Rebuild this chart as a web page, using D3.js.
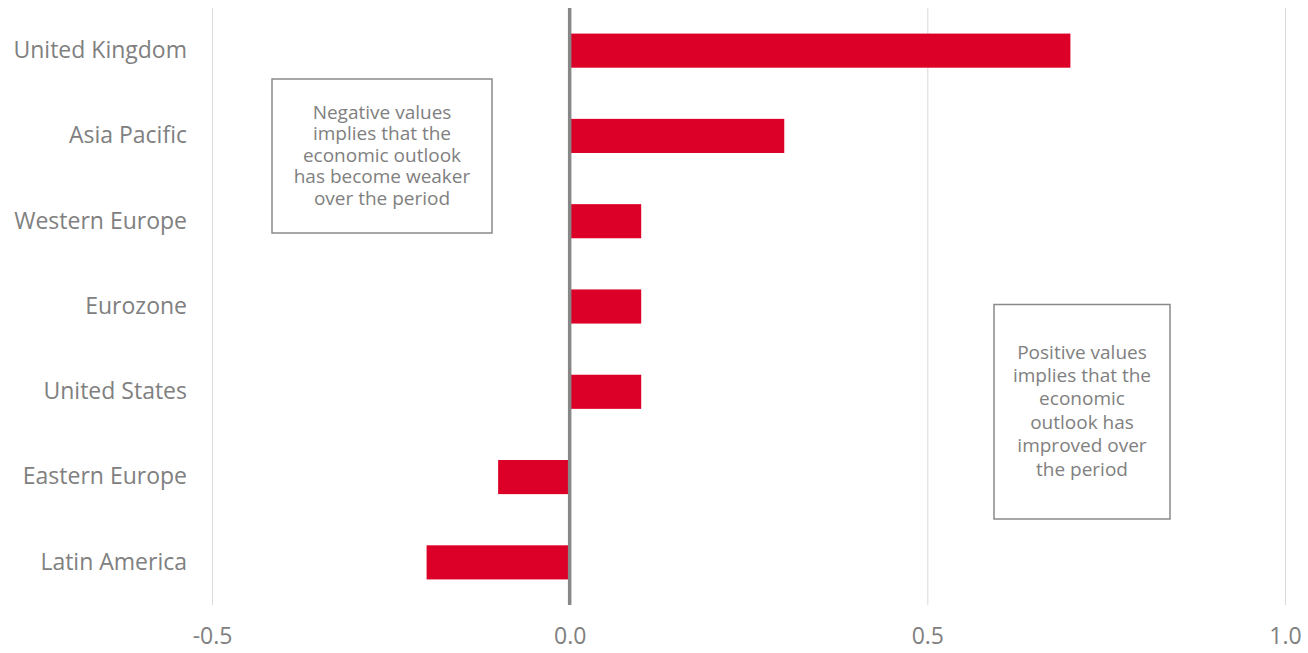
<!DOCTYPE html>
<html>
<head>
<meta charset="utf-8">
<script src="https://cdn.jsdelivr.net/npm/d3@7"></script>
<style>
  body { margin: 0; background: #fff; }
  text { font-family: "Open Sans", sans-serif; fill: #808080; }
</style>
</head>
<body>
<div id="wrapper"></div>
<script>
const categories = ["United Kingdom", "Asia Pacific", "Western Europe", "Eurozone", "United States", "Eastern Europe", "Latin America"]
const values = [0.70, 0.30, 0.10, 0.10, 0.10, -0.10, -0.20]
const tickValues = [-0.5, 0, 0.5, 1.0]
const tickLabels = ["-0.5", "0.0", "0.5", "1.0"]
const noteNegative = ["Negative values", "implies that the", "economic outlook", "has become weaker", "over the period"]
const notePositive = ["Positive values", "implies that the", "economic", "outlook has", "improved over", "the period"]

const dataset = categories.map((c, i) => ({ category: c, value: values[i] }))

// dimensions
let dimensions = {
  width: 1308,
  height: 653,
  margins: { top: 8, right: 23, bottom: 48, left: 212 },
}
dimensions.boundedWidth = dimensions.width - dimensions.margins.left - dimensions.margins.right
dimensions.boundedHeight = dimensions.height - dimensions.margins.top - dimensions.margins.bottom

const wrapper = d3.select("#wrapper")
  .append("svg")
  .attr("width", dimensions.width)
  .attr("height", dimensions.height)

const bounds = wrapper.append("g")
  .attr("transform", `translate(${dimensions.margins.left},${dimensions.margins.top})`)

// scales
const xScale = d3.scaleLinear()
  .domain([-0.5, 1.0])
  .range([0, dimensions.boundedWidth])

const yScale = d3.scaleBand()
  .domain(categories)
  .range([0, dimensions.boundedHeight])
  .paddingInner(0.6)
  .paddingOuter(0.3)

// gridlines
const gridGenerator = d3.axisBottom(xScale)
  .tickValues(tickValues)
  .tickSize(dimensions.boundedHeight)
  .tickFormat("")
const grid = bounds.append("g").call(gridGenerator)
grid.select(".domain").remove()
grid.selectAll("line").attr("stroke", "#d9d9d9").attr("stroke-width", 1)

// bars
bounds.append("g")
  .selectAll("rect")
  .data(dataset)
  .join("rect")
  .attr("x", d => xScale(Math.min(0, d.value)))
  .attr("y", d => yScale(d.category))
  .attr("width", d => Math.abs(xScale(d.value) - xScale(0)))
  .attr("height", yScale.bandwidth())
  .attr("fill", "#dc0028")

// zero line
bounds.append("line")
  .attr("x1", xScale(0))
  .attr("x2", xScale(0))
  .attr("y1", 0)
  .attr("y2", dimensions.boundedHeight)
  .attr("stroke", "#878787")
  .attr("stroke-width", 3.5)

// x axis
const xAxisGenerator = d3.axisBottom(xScale)
  .tickValues(tickValues)
  .tickSize(0)
  .tickPadding(23)
  .tickFormat((d, i) => tickLabels[i])
const xAxis = bounds.append("g")
  .attr("transform", `translate(0,${dimensions.boundedHeight})`)
  .call(xAxisGenerator)
xAxis.select(".domain").remove()
xAxis.selectAll("text")
  .style("font-size", "23px")
  .style("font-family", "'Open Sans', sans-serif")
  .attr("fill", "#808080")

// y axis
const yAxisGenerator = d3.axisLeft(yScale)
  .tickSize(0)
  .tickPadding(25)
const yAxis = bounds.append("g").call(yAxisGenerator)
yAxis.select(".domain").remove()
yAxis.selectAll("text")
  .style("font-size", "23px")
  .style("font-family", "'Open Sans', sans-serif")
  .attr("fill", "#808080")

// annotation boxes
function drawNote(lines, x0, x1, y0, y1, lineY0, lineStep) {
  const g = wrapper.append("g")
  g.append("rect")
    .attr("x", x0).attr("y", y0)
    .attr("width", x1 - x0).attr("height", y1 - y0)
    .attr("fill", "#fff")
    .attr("stroke", "#8a8a8a")
    .attr("stroke-width", 1.5)
  g.selectAll("text")
    .data(lines)
    .join("text")
    .attr("x", (x0 + x1) / 2)
    .attr("y", (d, i) => lineY0 + i * lineStep)
    .attr("dy", "0.35em")
    .attr("text-anchor", "middle")
    .style("font-size", "19px")
    .text(d => d)
}
drawNote(noteNegative, 272, 492, 79, 233, 112, 21.5)
drawNote(notePositive, 994, 1170, 304.5, 519, 352, 23.4)
</script>
</body>
</html>
